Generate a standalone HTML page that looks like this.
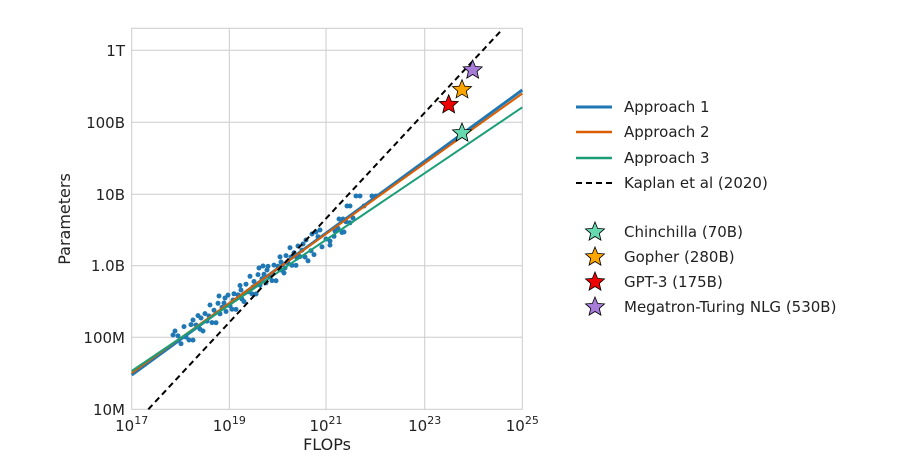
<!DOCTYPE html>
<html><head><meta charset="utf-8"><style>
html,body{margin:0;padding:0;background:#fff;}
svg{display:block;font-family:"DejaVu Sans","Liberation Sans",sans-serif;}
</style></head><body>
<svg width="908" height="470" viewBox="0 0 908 470" xmlns="http://www.w3.org/2000/svg">
<defs>
<polygon id="star" points="0,-10 2.6,-3.6 9.5,-3.1 4.3,1.4 5.9,8.1 0,4.5 -5.9,8.1 -4.3,1.4 -9.5,-3.1 -2.6,-3.6"/>
</defs>
<rect x="131.7" y="28.3" width="390.6" height="381" fill="#fff" stroke="#ccc" stroke-width="1"/>
<g stroke="#ccc" stroke-width="1">
<line x1="229.3" y1="28.3" x2="229.3" y2="409.3"/>
<line x1="326" y1="28.3" x2="326" y2="409.3"/>
<line x1="424.7" y1="28.3" x2="424.7" y2="409.3"/>
<line x1="131.7" y1="50.3" x2="522.3" y2="50.3"/>
<line x1="131.7" y1="122.3" x2="522.3" y2="122.3"/>
<line x1="131.7" y1="194.3" x2="522.3" y2="194.3"/>
<line x1="131.7" y1="265.7" x2="522.3" y2="265.7"/>
<line x1="131.7" y1="337.3" x2="522.3" y2="337.3"/>
</g>
<g fill="#1f77b4">
<circle cx="178" cy="335.9" r="2.5"/><circle cx="181" cy="343.7" r="2.5"/><circle cx="184" cy="326.6" r="2.5"/><circle cx="186" cy="337.1" r="2.5"/><circle cx="189" cy="340" r="2.5"/><circle cx="191" cy="324.6" r="2.5"/><circle cx="193" cy="340.1" r="2.5"/><circle cx="196" cy="325" r="2.5"/><circle cx="198" cy="315.6" r="2.5"/><circle cx="200" cy="329.1" r="2.5"/><circle cx="203" cy="331" r="2.5"/><circle cx="205" cy="313.6" r="2.5"/><circle cx="207" cy="321.1" r="2.5"/><circle cx="210" cy="305" r="2.5"/><circle cx="212" cy="322.6" r="2.5"/><circle cx="214" cy="310.2" r="2.5"/><circle cx="216" cy="322.7" r="2.5"/><circle cx="218" cy="303.3" r="2.5"/><circle cx="220" cy="313.8" r="2.5"/><circle cx="222" cy="307.4" r="2.5"/><circle cx="224" cy="303" r="2.5"/><circle cx="226" cy="311.5" r="2.5"/><circle cx="228" cy="295.1" r="2.5"/><circle cx="230" cy="305.7" r="2.5"/><circle cx="232" cy="309.2" r="2.5"/><circle cx="234" cy="293.8" r="2.5"/><circle cx="236" cy="309.4" r="2.5"/><circle cx="238" cy="294.9" r="2.5"/><circle cx="240" cy="285.5" r="2.5"/><circle cx="242" cy="299.1" r="2.5"/><circle cx="244" cy="301.6" r="2.5"/><circle cx="246" cy="284.2" r="2.5"/><circle cx="248" cy="291.8" r="2.5"/><circle cx="250" cy="276.3" r="2.5"/><circle cx="252" cy="293.9" r="2.5"/><circle cx="254" cy="281.5" r="2.5"/><circle cx="256" cy="294" r="2.5"/><circle cx="258" cy="274.6" r="2.5"/><circle cx="260" cy="285.2" r="2.5"/><circle cx="262" cy="278.7" r="2.5"/><circle cx="264" cy="274.3" r="2.5"/><circle cx="266" cy="282.9" r="2.5"/><circle cx="268" cy="266.4" r="2.5"/><circle cx="270" cy="277" r="2.5"/><circle cx="272" cy="280.6" r="2.5"/><circle cx="274" cy="265.1" r="2.5"/><circle cx="276" cy="280.7" r="2.5"/><circle cx="278" cy="266.3" r="2.5"/><circle cx="280" cy="256.9" r="2.5"/><circle cx="282" cy="270.4" r="2.5"/><circle cx="284" cy="273" r="2.5"/><circle cx="286" cy="255.6" r="2.5"/><circle cx="288" cy="263.1" r="2.5"/><circle cx="290" cy="247.7" r="2.5"/><circle cx="292" cy="265.3" r="2.5"/><circle cx="294" cy="252.8" r="2.5"/><circle cx="296" cy="265.4" r="2.5"/><circle cx="298" cy="246" r="2.5"/><circle cx="300" cy="256.6" r="2.5"/><circle cx="302" cy="250.1" r="2.5"/><circle cx="305" cy="257" r="2.5"/><circle cx="308" cy="260.8" r="2.5"/><circle cx="311" cy="250.7" r="2.5"/><circle cx="314" cy="254.6" r="2.5"/><circle cx="318" cy="236.7" r="2.5"/><circle cx="322" cy="246.9" r="2.5"/><circle cx="326" cy="239" r="2.5"/><circle cx="330" cy="245.1" r="2.5"/><circle cx="334" cy="236.3" r="2.5"/><circle cx="338" cy="228.4" r="2.5"/><circle cx="342" cy="232.5" r="2.5"/><circle cx="346" cy="221.7" r="2.5"/><circle cx="350" cy="222.8" r="2.5"/>
<circle cx="219" cy="296" r="2.5"/><circle cx="225" cy="298" r="2.5"/><circle cx="233" cy="300" r="2.5"/><circle cx="241" cy="290" r="2.5"/><circle cx="253" cy="287" r="2.5"/><circle cx="259" cy="268" r="2.5"/><circle cx="263" cy="266" r="2.5"/><circle cx="267" cy="270" r="2.5"/><circle cx="281" cy="262" r="2.5"/><circle cx="285" cy="268" r="2.5"/><circle cx="291" cy="257" r="2.5"/><circle cx="297" cy="258" r="2.5"/><circle cx="303" cy="244" r="2.5"/><circle cx="306" cy="240" r="2.5"/><circle cx="312" cy="234" r="2.5"/><circle cx="316" cy="232" r="2.5"/><circle cx="320" cy="230" r="2.5"/><circle cx="193" cy="320" r="2.5"/><circle cx="201" cy="318" r="2.5"/><circle cx="173" cy="335" r="2.5"/><circle cx="175" cy="331" r="2.5"/><circle cx="209" cy="316" r="2.5"/>
<circle cx="356" cy="196" r="2.5"/><circle cx="360" cy="196" r="2.5"/><circle cx="372" cy="196" r="2.5"/><circle cx="376" cy="196" r="2.5"/><circle cx="347" cy="206" r="2.5"/><circle cx="350" cy="206" r="2.5"/><circle cx="364" cy="206" r="2.5"/><circle cx="339" cy="219" r="2.5"/><circle cx="343" cy="219" r="2.5"/><circle cx="353" cy="218" r="2.5"/><circle cx="335" cy="231" r="2.5"/><circle cx="330" cy="241" r="2.5"/><circle cx="344" cy="232" r="2.5"/>
</g>
<line x1="131.7" y1="375" x2="522.3" y2="90" stroke="#1f77b4" stroke-width="3"/>
<line x1="131.7" y1="373" x2="522.3" y2="93.5" stroke="#d95f02" stroke-width="2"/>
<line x1="131.7" y1="371" x2="522.3" y2="107.3" stroke="#1b9e77" stroke-width="2"/>
<line x1="148.3" y1="409.3" x2="501.7" y2="30" stroke="#000" stroke-width="2" stroke-dasharray="6,4"/>
<g stroke="#000" stroke-width="0.8">
<use href="#star" transform="translate(472.7,70)" fill="#a77bd8"/>
<use href="#star" transform="translate(462,89.7)" fill="#ffa500"/>
<use href="#star" transform="translate(448.7,104.7)" fill="#ee0000"/>
<use href="#star" transform="translate(462,133)" fill="#66d9b0"/>
<use href="#star" transform="translate(595,232)" fill="#66d9b0"/>
<use href="#star" transform="translate(595,257)" fill="#ffa500"/>
<use href="#star" transform="translate(595,282)" fill="#ee0000"/>
<use href="#star" transform="translate(595,307)" fill="#a77bd8"/>
</g>
<g font-size="15" fill="#222" text-anchor="end">
<text x="125" y="56">1T</text>
<text x="125" y="128">100B</text>
<text x="125" y="200">10B</text>
<text x="125" y="271">1.0B</text>
<text x="125" y="343">100M</text>
<text x="125" y="415">10M</text>
</g>
<g font-size="15" fill="#222" text-anchor="middle">
<text x="131.7" y="431">10<tspan dy="-7" font-size="11">17</tspan></text>
<text x="229.3" y="431">10<tspan dy="-7" font-size="11">19</tspan></text>
<text x="326" y="431">10<tspan dy="-7" font-size="11">21</tspan></text>
<text x="424.7" y="431">10<tspan dy="-7" font-size="11">23</tspan></text>
<text x="522.3" y="431">10<tspan dy="-7" font-size="11">25</tspan></text>
<text x="327" y="450" font-size="16">FLOPs</text>
<text transform="translate(70,219) rotate(-90)" font-size="16">Parameters</text>
</g>
<g>
<line x1="576" y1="107" x2="612" y2="107" stroke="#1f77b4" stroke-width="3"/>
<line x1="576" y1="132" x2="612" y2="132" stroke="#d95f02" stroke-width="2.5"/>
<line x1="576" y1="158" x2="612" y2="158" stroke="#1b9e77" stroke-width="2.5"/>
<line x1="576" y1="183" x2="612" y2="183" stroke="#000" stroke-width="2" stroke-dasharray="6,4"/>
</g>
<g font-size="15" fill="#222">
<text x="624" y="112">Approach 1</text>
<text x="624" y="137">Approach 2</text>
<text x="624" y="163">Approach 3</text>
<text x="624" y="188">Kaplan et al (2020)</text>
<text x="624" y="237">Chinchilla (70B)</text>
<text x="624" y="262">Gopher (280B)</text>
<text x="624" y="287">GPT-3 (175B)</text>
<text x="624" y="312">Megatron-Turing NLG (530B)</text>
</g>
</svg>
</body></html>
